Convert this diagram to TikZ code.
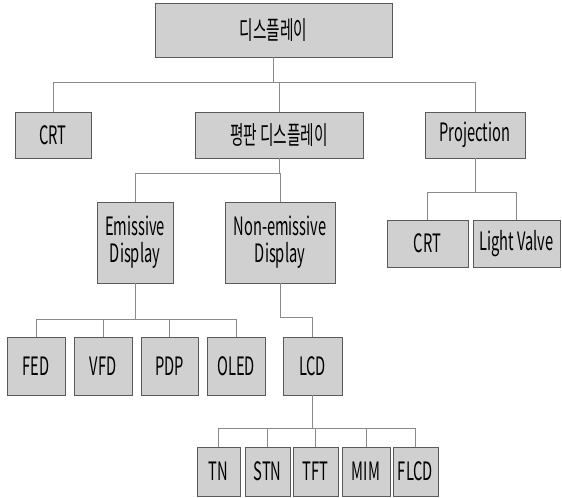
\documentclass[tikz,border=0pt]{standalone}
\usepackage{fontspec}
\usepackage{tikz}
\usetikzlibrary{positioning}
\newfontfamily\boxfont[FakeStretch=0.58]{Noto Sans CJK KR}
\definecolor{boxgray}{HTML}{D0D0D0}
\definecolor{edgegray}{HTML}{5A5A5A}
\definecolor{linkgray}{HTML}{8A8A8A}

\begin{document}
\begin{tikzpicture}[x=0.25mm, y=-0.25mm,
  unit/.style={draw=edgegray, fill=boxgray, line width=0.6pt, inner sep=0pt,
    font=\boxfont\fontsize{18}{19}\selectfont, align=center},
  link/.style={draw=linkgray, line width=0.5pt}]
\useasboundingbox (0,0) rectangle (562,497);
\fill[white] (0,0) rectangle (562,497);
% level 1
\node[unit, minimum width=237*0.25mm, minimum height=54*0.25mm] (disp) at (273.5,30) {디스플레이};
% level 2
\node[unit, minimum width=76*0.25mm, minimum height=46*0.25mm] (crt) at (53,135) {CRT};
\node[unit, minimum width=168*0.25mm, minimum height=46*0.25mm] (flat) at (279,135) {평판 디스플레이};
\node[unit, minimum width=100*0.25mm, minimum height=46*0.25mm] (proj) at (475,135) {Projection};
% level 3
\node[unit, minimum width=76*0.25mm, minimum height=81*0.25mm] (emis) at (135,242.5) {Emissive\\Display};
\node[unit, minimum width=110*0.25mm, minimum height=81*0.25mm] (nonemis) at (280,242.5) {Non-emissive\\Display};
\node[unit, minimum width=81*0.25mm, minimum height=47*0.25mm] (pcrt) at (427.5,243.5) {CRT};
\node[unit, minimum width=87*0.25mm, minimum height=47*0.25mm] (valve) at (516.5,243.5) {Light Valve};
% level 4
\node[unit, minimum width=58*0.25mm, minimum height=58*0.25mm] (fed) at (36,366) {FED};
\node[unit, minimum width=58*0.25mm, minimum height=58*0.25mm] (vfd) at (103,366) {VFD};
\node[unit, minimum width=57*0.25mm, minimum height=58*0.25mm] (pdp) at (169.5,366) {PDP};
\node[unit, minimum width=58*0.25mm, minimum height=58*0.25mm] (oled) at (236,366) {OLED};
\node[unit, minimum width=59*0.25mm, minimum height=58*0.25mm] (lcd) at (312.5,366) {LCD};
% level 5
\node[unit, minimum width=43*0.25mm, minimum height=49*0.25mm] (tn) at (218.5,471.5) {TN};
\node[unit, minimum width=45*0.25mm, minimum height=49*0.25mm] (stn) at (267.5,471.5) {STN};
\node[unit, minimum width=45*0.25mm, minimum height=49*0.25mm] (tft) at (315.5,471.5) {TFT};
\node[unit, minimum width=48*0.25mm, minimum height=49*0.25mm] (mim) at (366,471.5) {MIM};
\node[unit, minimum width=45*0.25mm, minimum height=49*0.25mm] (flcd) at (415.5,471.5) {FLCD};
% connectors
\foreach \kid in {crt, flat, proj}
  \draw[link] (disp.south) -- ++(0,25) -| (\kid.north);
\foreach \kid in {emis, nonemis}
  \draw[link] (flat.south) -- ++(0,15) -| (\kid.north);
\foreach \kid in {pcrt, valve}
  \draw[link] (proj.south) -- ++(0,34) -| (\kid.north);
\foreach \kid in {fed, vfd, pdp, oled}
  \draw[link] (emis.south) -- ++(0,36) -| (\kid.north);
\draw[link] (nonemis.south) -- ++(0,34) -| (lcd.north);
\foreach \kid in {tn, stn, tft, mim, flcd}
  \draw[link] (lcd.south) -- ++(0,33) -| (\kid.north);
\end{tikzpicture}
\end{document}
